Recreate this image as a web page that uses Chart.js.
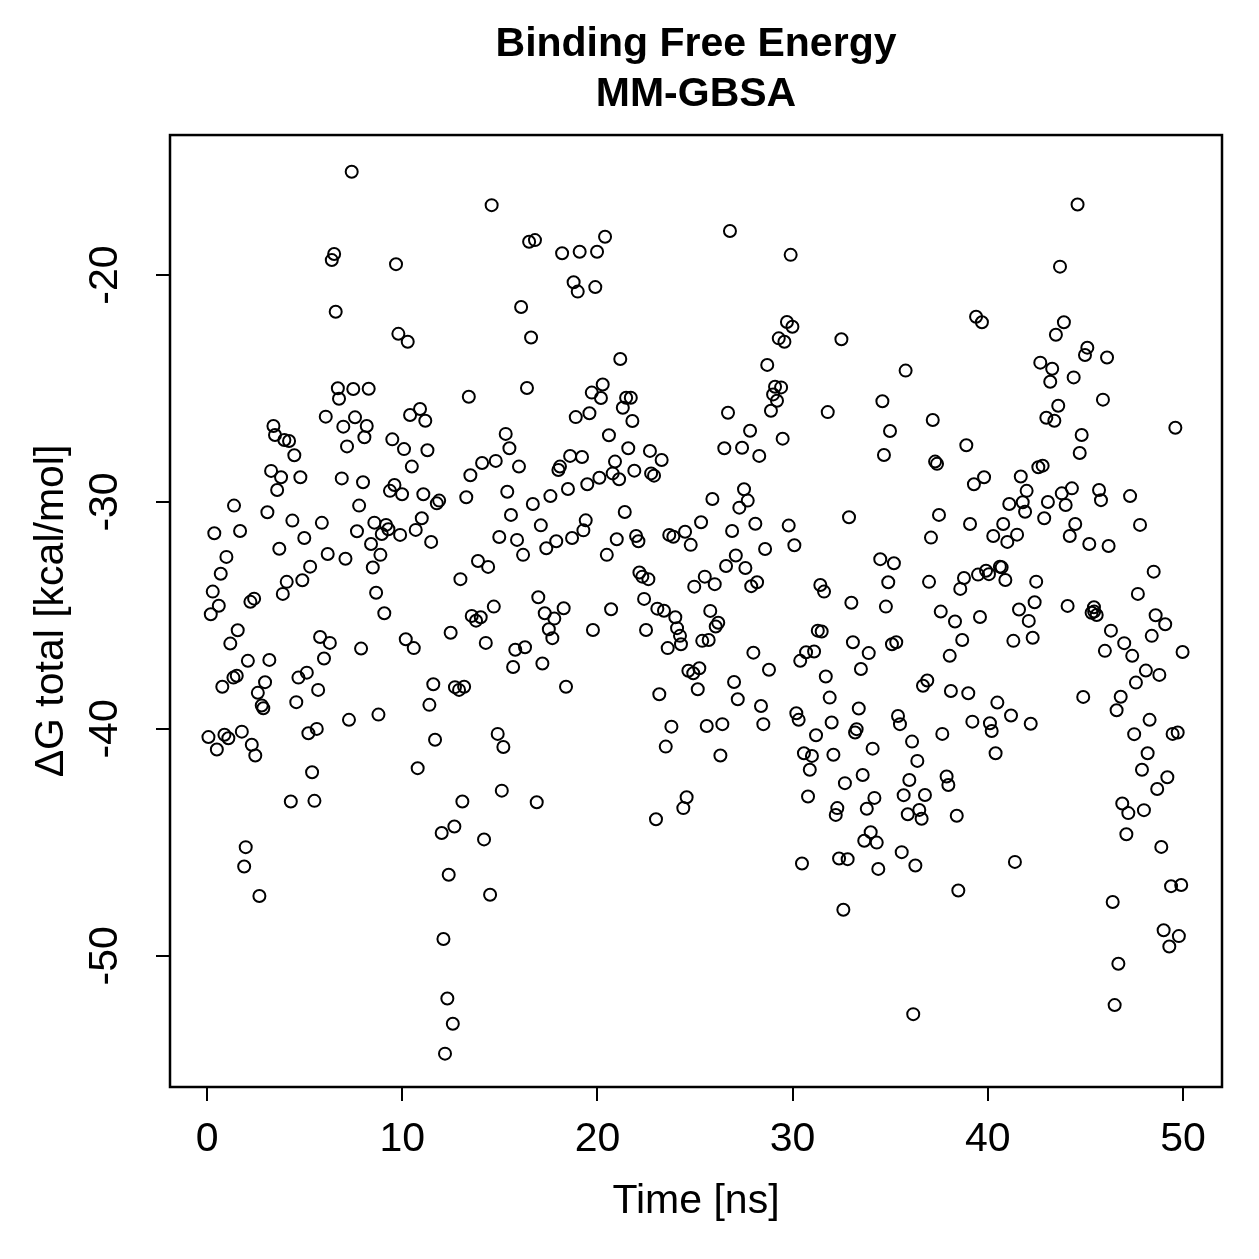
<!DOCTYPE html>
<html>
<head>
<meta charset="utf-8">
<title>Binding Free Energy MM-GBSA</title>
<script src="https://cdn.jsdelivr.net/npm/chart.js@4.4.0/dist/chart.umd.min.js"></script>
<style>
  html, body { margin: 0; padding: 0; background: #ffffff; }
  #plot { display: block; }
</style>
</head>
<body>
<canvas id="plot" width="1259" height="1259"></canvas>
<script>
/* --------------- Data (one group per region) ---------------------------------------- */
const timeNs = [
  7.41,6.51,6.39,9.68,6.59,9.80,10.28,6.70,7.49,8.28,6.76,10.91,10.40,11.18,6.08,7.58,6.98,8.18,3.40,3.48,3.96,4.20,8.06,9.49,10.09,11.29,7.17,4.47,
  14.58,16.50,16.80,18.19,19.09,19.98,20.39,18.78,18.99,19.89,16.09,16.60,21.17,16.39,13.41,20.27,19.71,20.18,21.47,21.71,21.30,21.79,18.89,19.59,15.30,15.49,20.59,21.58,22.69,23.29,14.09,14.79,18.60,19.21,20.90,
  26.79,29.90,29.71,29.99,29.29,29.58,32.50,28.70,35.79,29.10,29.41,29.00,29.20,28.89,26.69,31.80,34.60,27.82,29.49,26.50,27.41,28.29,34.99,34.68,37.18,37.30,37.40,
  44.60,43.70,39.40,39.70,43.90,43.49,45.10,44.98,46.11,42.69,43.30,43.20,44.40,45.90,43.61,43.00,43.41,49.61,44.81,44.71,38.90,
  10.49,3.28,3.79,4.78,3.59,6.90,7.99,9.60,9.37,9.99,11.08,11.77,11.89,1.38,3.09,7.79,4.37,5.88,8.57,9.17,9.29,8.95,9.89,11.00,10.69,11.48,0.37,1.69,4.98,7.68,8.40,3.70,6.18,7.09,8.88,0.99,5.28,8.49,0.70,4.08,4.88,0.29,3.88,8.66,0.60,0.19,2.22,2.41,9.08,1.57,1.19,5.79,6.29,7.89,10.18,10.59,2.09,3.19,5.99,1.35,1.52,0.78,2.97,2.60,4.68,5.11,5.69,2.80,2.88,4.57,11.59,11.39,7.27,8.78,0.07,0.89,1.09,1.78,0.50,2.29,2.47,5.19,5.62,11.68,5.38,10.79,
  13.49,15.98,18.00,18.08,21.89,22.75,22.90,20.78,21.11,20.10,19.48,18.49,17.59,16.69,15.38,13.28,15.57,17.10,19.40,19.28,21.40,14.97,15.88,16.19,17.38,17.89,18.70,20.99,20.48,21.98,22.10,23.68,23.89,24.49,24.78,13.88,14.40,12.98,22.15,22.30,22.61,24.96,16.97,17.30,17.79,18.27,17.51,17.69,20.70,19.77,22.39,23.07,23.41,23.99,24.08,24.23,24.28,23.60,22.49,14.69,13.56,13.78,14.02,12.48,14.28,15.79,16.29,15.68,17.18,24.66,24.91,12.70,12.91,13.17,18.39,23.17,23.79,23.50,14.89,15.18,
  25.31,25.89,27.51,27.70,27.27,26.90,28.09,29.80,30.09,28.59,27.09,26.59,27.58,25.50,26.01,28.18,27.88,32.89,37.50,37.09,34.49,35.19,34.90,36.99,31.42,31.61,33.01,34.78,37.59,25.78,26.19,26.06,25.37,25.70,27.99,28.79,25.22,25.14,27.00,27.19,28.38,28.50,25.60,26.40,26.30,31.29,31.49,33.09,33.90,33.50,35.09,35.31,30.69,31.10,30.39,31.70,31.90,30.19,30.31,33.39,32.00,33.28,33.20,31.20,30.58,30.99,32.09,34.10,30.88,35.40,35.50,36.68,36.90,36.12,36.39,37.67,38.05,38.11,
  42.59,42.81,39.29,39.81,41.69,41.99,41.79,41.91,41.10,43.08,43.79,44.31,43.99,42.89,45.70,45.80,47.29,47.80,39.09,40.79,40.28,41.00,41.50,44.48,44.20,45.20,46.19,48.50,47.69,38.78,38.59,39.50,39.91,40.06,40.62,40.71,40.90,42.48,42.40,41.60,42.10,41.31,42.30,39.60,38.32,38.69,44.09,45.44,45.32,45.58,45.45,46.31,46.99,47.40,46.00,48.60,49.09,48.40,49.98,48.10,48.79,47.59,39.00,40.49,44.89,46.81,46.60,39.21,40.11,40.20,41.19,42.20,40.40,48.29,47.50,49.47,49.73,48.19,47.90,
  4.29,5.50,1.98,1.90,2.68,
  15.10,13.08,16.89,12.67,12.02,14.19,12.38,14.50,12.11,12.31,12.59,12.19,23.00,24.40,24.57,
  33.59,32.68,35.98,37.89,37.98,30.79,32.29,32.21,33.80,34.19,35.69,36.78,35.90,36.49,36.61,34.00,33.67,34.31,35.59,36.29,32.38,32.82,30.48,34.39,32.60,36.18,
  38.41,38.49,41.39,49.20,48.68,46.89,47.20,48.00,47.10,48.89,49.39,49.91,46.40,49.01,49.79,49.30,46.69,46.50
];
const deltaG = [
  -15.45,-19.07,-19.34,-19.52,-21.62,-22.59,-22.94,-24.99,-25.02,-25.01,-25.45,-25.90,-26.17,-26.42,-26.24,-26.27,-26.68,-26.65,-26.65,-27.05,-27.27,-27.31,-27.15,-27.24,-27.67,-27.72,-27.55,-27.94,
  -16.92,-18.53,-18.46,-19.04,-18.97,-18.97,-18.31,-20.32,-20.73,-20.53,-21.41,-22.75,-23.70,-24.98,-25.36,-24.82,-25.18,-25.42,-25.41,-25.41,-25.85,-26.43,-26.26,-26.09,-27.00,-27.63,-27.06,-27.63,-27.75,-28.15,-28.28,-28.19,-27.97,-28.02,-28.22,
  -18.06,-19.11,-22.07,-22.28,-22.79,-22.94,-22.83,-23.96,-24.21,-24.92,-24.95,-25.26,-25.54,-25.98,-26.07,-26.04,-25.56,-26.86,-27.21,-27.63,-27.61,-27.97,-26.87,-27.93,-26.39,-28.22,-28.32,
  -16.89,-19.63,-21.84,-22.08,-22.08,-22.63,-23.20,-23.52,-23.63,-23.86,-24.13,-24.70,-24.51,-25.49,-25.76,-26.29,-26.42,-26.73,-27.05,-27.84,-27.50,
  -28.44,-28.63,-28.91,-28.91,-29.47,-28.96,-29.13,-29.25,-29.51,-29.66,-29.66,-30.06,-29.94,-30.16,-30.45,-30.16,-30.82,-30.92,-30.91,-31.01,-31.20,-31.41,-31.45,-30.72,-31.23,-31.76,-31.38,-31.28,-31.59,-31.29,-31.85,-32.06,-32.29,-32.50,-32.33,-32.42,-32.85,-32.89,-33.16,-33.52,-33.45,-33.95,-34.05,-34.00,-34.57,-34.95,-34.40,-34.26,-34.90,-35.65,-36.24,-35.95,-36.21,-36.46,-36.05,-36.44,-37.00,-36.96,-36.90,-37.74,-37.66,-38.14,-37.94,-38.41,-37.74,-37.52,-38.28,-38.97,-39.09,-38.82,-38.03,-38.94,-39.60,-39.37,-40.36,-40.26,-40.41,-40.12,-40.91,-40.70,-41.17,-40.19,-40.00,-40.48,-41.91,-41.73,
  -28.82,-28.44,-28.59,-28.44,-28.62,-28.74,-28.84,-28.74,-29.00,-28.93,-29.22,-29.43,-29.74,-30.09,-29.55,-29.79,-30.57,-31.03,-30.81,-31.25,-30.44,-31.54,-31.67,-32.33,-32.04,-31.73,-31.59,-31.64,-32.33,-31.50,-31.73,-31.45,-31.53,-31.31,-31.89,-32.60,-32.86,-33.40,-33.11,-33.29,-33.40,-33.73,-34.20,-34.90,-35.14,-34.68,-35.61,-36.00,-34.73,-35.64,-34.27,-34.70,-34.79,-35.08,-35.56,-35.90,-36.27,-36.44,-35.64,-34.61,-35.02,-35.23,-35.08,-35.76,-36.21,-36.51,-36.40,-37.27,-37.12,-37.44,-37.55,-38.16,-38.28,-38.14,-38.14,-38.47,-39.90,-40.78,-40.22,-40.80,
  -30.89,-29.87,-29.44,-29.94,-30.25,-31.28,-30.96,-31.04,-31.91,-32.07,-32.36,-32.82,-32.91,-33.29,-33.62,-33.54,-33.71,-30.67,-30.57,-31.57,-32.52,-32.70,-33.54,-33.52,-33.66,-33.95,-34.44,-34.61,-34.83,-34.80,-35.32,-35.49,-36.12,-36.08,-36.64,-37.39,-37.33,-38.25,-37.93,-38.69,-38.99,-39.79,-39.87,-39.79,-41.17,-35.67,-35.71,-36.18,-36.66,-37.36,-36.27,-36.18,-36.62,-36.59,-37.00,-37.69,-38.62,-39.31,-39.60,-39.10,-39.72,-40.01,-40.16,-40.28,-41.07,-41.19,-41.14,-40.87,-41.80,-39.43,-39.79,-38.10,-37.87,-40.56,-41.41,-40.22,-36.78,-38.33,
  -28.47,-28.40,-29.22,-28.91,-28.88,-29.51,-30.01,-30.43,-30.09,-30.00,-29.62,-29.40,-30.13,-30.72,-29.47,-29.92,-29.74,-31.01,-30.97,-30.97,-31.50,-31.76,-31.44,-30.97,-31.50,-31.85,-31.94,-33.07,-34.05,-33.35,-33.83,-33.20,-33.03,-33.18,-32.85,-32.88,-33.44,-33.51,-34.42,-34.74,-35.24,-36.12,-35.98,-35.07,-35.27,-36.08,-34.58,-34.64,-34.88,-34.98,-34.83,-35.67,-36.22,-36.78,-36.56,-34.99,-35.39,-35.90,-36.61,-37.43,-37.62,-37.96,-38.43,-38.84,-38.59,-38.58,-39.18,-39.68,-39.75,-40.09,-39.41,-39.77,-41.07,-39.60,-40.23,-40.22,-40.16,-41.07,-41.80,
  -43.20,-43.17,-45.21,-46.06,-47.36,
  -42.72,-43.20,-43.23,-44.30,-44.59,-44.87,-46.43,-47.31,-49.26,-51.88,-52.99,-54.31,-43.98,-43.49,-43.01,
  -42.03,-42.39,-42.25,-42.10,-42.47,-42.98,-43.49,-43.79,-43.52,-43.04,-42.92,-42.91,-43.76,-43.57,-43.96,-44.55,-44.93,-45.01,-45.43,-46.02,-45.71,-45.74,-45.93,-46.17,-47.97,-52.57,
  -43.83,-47.12,-45.86,-42.13,-42.65,-43.29,-43.71,-43.58,-44.64,-45.20,-46.93,-46.88,-47.63,-48.87,-49.13,-49.59,-50.35,-52.17
];
const xTicks = [0, 10, 20, 30, 40, 50];
const yTicks = [-50, -40, -30, -20];
const titleLines = ["Binding Free Energy", "MM-GBSA"];

/* --------------- Look --------------------- */
const FONT = '"Liberation Sans", Arial, Helvetica, sans-serif';
Chart.defaults.font.family = FONT;
Chart.defaults.color = "#000000";

// white page + R style frame round the plot region
const frame = {
  id: "frame",
  beforeDraw(chart) {
    const ctx = chart.ctx;
    ctx.save();
    ctx.fillStyle = "#ffffff";
    ctx.fillRect(0, 0, chart.width, chart.height);
    ctx.restore();
  },
  afterDatasetsDraw(chart) {
    const { ctx, chartArea: a } = chart;
    ctx.save();
    ctx.strokeStyle = "#000000";
    ctx.lineWidth = 2.5;
    ctx.strokeRect(a.left, a.top, a.right - a.left, a.bottom - a.top);
    ctx.restore();
  },
};

const tickMarks = { drawOnChartArea: false, drawTicks: true, tickLength: 14, color: "#000000", lineWidth: 2 };

const points = timeNs.map((t, i) => ({ x: t, y: deltaG[i] }));

new Chart(document.getElementById("plot"), {
  type: "scatter",
  plugins: [frame],
  data: {
    datasets: [
      {
        data: points,
        pointStyle: "circle",
        pointRadius: 6,
        pointHoverRadius: 6,
        borderWidth: 2,
        borderColor: "#000000",
        backgroundColor: "rgba(0,0,0,0)",
        showLine: false,
      },
    ],
  },
  options: {
    responsive: false,
    animation: false,
    devicePixelRatio: 1,
    layout: { padding: { left: 0, right: 37, top: 0, bottom: 0 } },
    plugins: {
      legend: { display: false },
      tooltip: { enabled: false },
      title: {
        display: true,
        text: titleLines,
        fullSize: false,
        color: "#000000",
        font: { size: 41, weight: "bold", lineHeight: 1.22 },
        padding: { top: 20, bottom: 15 },
      },
    },
    scales: {
      x: {
        type: "linear",
        min: -1.9,
        max: 52,
        afterBuildTicks: (s) => { s.ticks = xTicks.map((v) => ({ value: v })); },
        afterFit: (s) => { s.height = 172; },
        grid: tickMarks,
        border: { display: false },
        ticks: { font: { size: 41 }, padding: 14, maxRotation: 0, autoSkip: false, color: "#000000" },
        title: { display: true, text: "Time [ns]", font: { size: 41 }, padding: { top: 0, bottom: 33 }, color: "#000000" },
      },
      y: {
        type: "linear",
        min: -55.78,
        max: -13.83,
        afterBuildTicks: (s) => { s.ticks = yTicks.map((v) => ({ value: v })); },
        afterFit: (s) => { s.width = 170; },
        grid: tickMarks,
        border: { display: false },
        ticks: { font: { size: 41 }, padding: 21, minRotation: 90, maxRotation: 90, crossAlign: "center", autoSkip: false, color: "#000000" },
        title: { display: true, text: "ΔG total [kcal/mol]", font: { size: 41 }, padding: { top: 27, bottom: 0 }, color: "#000000" },
      },
    },
  },
});
</script>
</body>
</html>
